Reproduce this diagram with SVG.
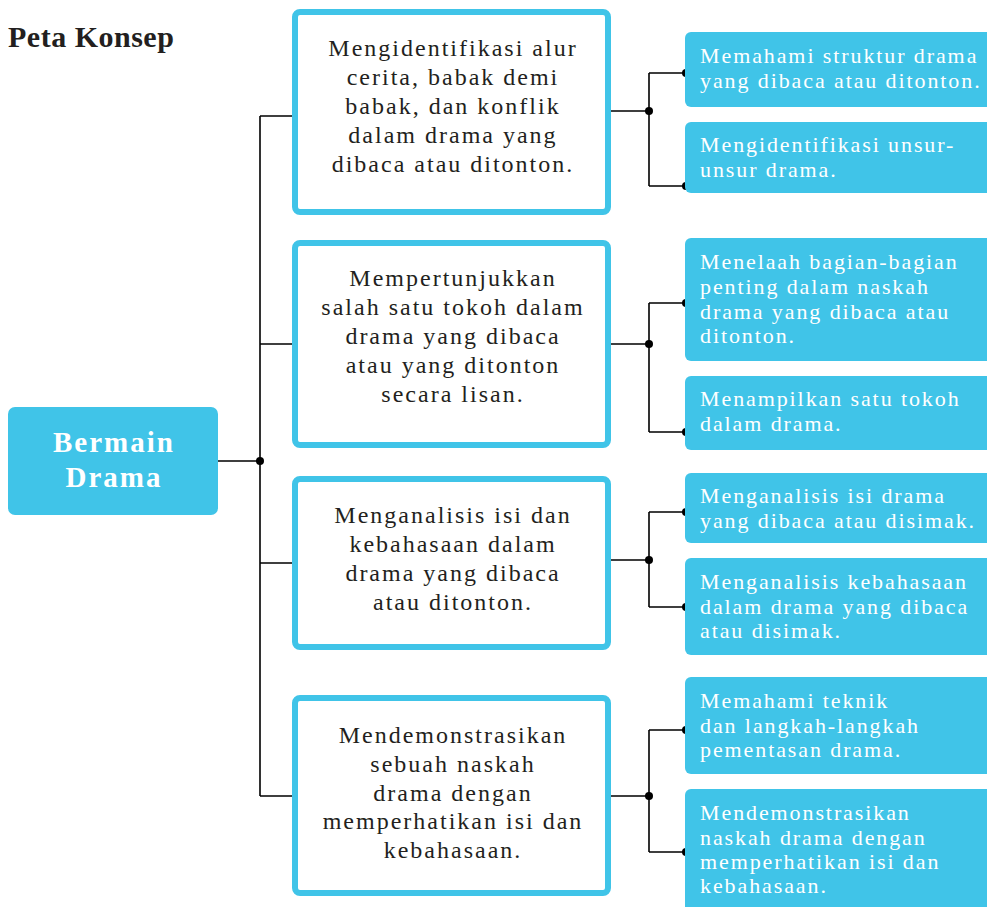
<svg xmlns="http://www.w3.org/2000/svg" width="987" height="907" viewBox="0 0 987 907">
<defs>
<style>
.title{font-family:"Liberation Serif",serif;font-weight:bold;font-size:30px;fill:#231F20;letter-spacing:0.5px}
.root{fill:#40C4E8}
.roottxt{font-family:"Liberation Serif",serif;font-weight:bold;font-size:29px;fill:#FFFFFF;letter-spacing:2px;text-anchor:middle}
.mid{fill:#FFFFFF;stroke:#40C4E8;stroke-width:6}
.midtxt{font-family:"Liberation Serif",serif;font-size:24px;fill:#231F20;letter-spacing:2px;text-anchor:middle}
.leaf{fill:#40C4E8}
.leaftxt{font-family:"Liberation Serif",serif;font-size:22px;fill:#FFFFFF;letter-spacing:1.9px}
.ln{fill:none;stroke:#000;stroke-width:1.6}
.dot{fill:#000}
</style>
</defs>
<text class="title" x="8" y="47">Peta Konsep</text>

<g id="connectors">
<path class="ln" d="M218 461H260M260 116V796M260 116H296M260 344H296M260 563H296M260 796H296"/>
<circle class="dot" cx="260" cy="461" r="4"/>
<circle class="dot" cx="296" cy="116" r="4"/>
<circle class="dot" cx="296" cy="344" r="4"/>
<circle class="dot" cx="296" cy="563" r="4"/>
<circle class="dot" cx="296" cy="796" r="4"/>
<path class="ln" d="M611 111H649M649 73V186M649 73H686M649 186H686"/>
<circle class="dot" cx="649" cy="111" r="4"/>
<circle class="dot" cx="686" cy="73" r="4"/>
<circle class="dot" cx="686" cy="186" r="4"/>
<path class="ln" d="M611 344H649M649 303V432M649 303H686M649 432H686"/>
<circle class="dot" cx="649" cy="344" r="4"/>
<circle class="dot" cx="686" cy="303" r="4"/>
<circle class="dot" cx="686" cy="432" r="4"/>
<path class="ln" d="M611 560H649M649 512V607M649 512H686M649 607H686"/>
<circle class="dot" cx="649" cy="560" r="4"/>
<circle class="dot" cx="686" cy="512" r="4"/>
<circle class="dot" cx="686" cy="607" r="4"/>
<path class="ln" d="M611 796H649M649 730V852M649 730H686M649 852H686"/>
<circle class="dot" cx="649" cy="796" r="4"/>
<circle class="dot" cx="686" cy="730" r="4"/>
<circle class="dot" cx="686" cy="852" r="4"/>
</g>

<g id="root">
<rect class="root" x="8" y="407" width="210" height="108" rx="7"/>
<text class="roottxt" x="114" y="452">Bermain</text>
<text class="roottxt" x="114" y="487">Drama</text>
</g>

<g id="mid1">
<rect class="mid" x="295" y="12" width="313" height="200" rx="5"/>
<text class="midtxt" x="453" y="56">Mengidentifikasi alur</text>
<text class="midtxt" x="453" y="85">cerita, babak demi</text>
<text class="midtxt" x="453" y="114">babak, dan konflik</text>
<text class="midtxt" x="453" y="143">dalam drama yang</text>
<text class="midtxt" x="453" y="172">dibaca atau ditonton.</text>
</g>
<g id="mid2">
<rect class="mid" x="295" y="243" width="313" height="202" rx="5"/>
<text class="midtxt" x="453" y="286">Mempertunjukkan</text>
<text class="midtxt" x="453" y="315">salah satu tokoh dalam</text>
<text class="midtxt" x="453" y="344">drama yang dibaca</text>
<text class="midtxt" x="453" y="373">atau yang ditonton</text>
<text class="midtxt" x="453" y="402">secara lisan.</text>
</g>
<g id="mid3">
<rect class="mid" x="295" y="479" width="313" height="168" rx="5"/>
<text class="midtxt" x="453" y="523">Menganalisis isi dan</text>
<text class="midtxt" x="453" y="552">kebahasaan dalam</text>
<text class="midtxt" x="453" y="581">drama yang dibaca</text>
<text class="midtxt" x="453" y="610">atau ditonton.</text>
</g>
<g id="mid4">
<rect class="mid" x="295" y="698" width="313" height="195" rx="5"/>
<text class="midtxt" x="453" y="743">Mendemonstrasikan</text>
<text class="midtxt" x="453" y="772">sebuah naskah</text>
<text class="midtxt" x="453" y="801">drama dengan</text>
<text class="midtxt" x="453" y="829">memperhatikan isi dan</text>
<text class="midtxt" x="453" y="858">kebahasaan.</text>
</g>

<g id="leaf1">
<rect class="leaf" x="685" y="32" width="320" height="75" rx="6"/>
<text class="leaftxt" x="700" y="63">Memahami struktur drama</text>
<text class="leaftxt" x="700" y="88">yang dibaca atau ditonton.</text>
</g>
<g id="leaf2">
<rect class="leaf" x="685" y="122" width="320" height="71" rx="6"/>
<text class="leaftxt" x="700" y="152">Mengidentifikasi unsur-</text>
<text class="leaftxt" x="700" y="177">unsur drama.</text>
</g>
<g id="leaf3">
<rect class="leaf" x="685" y="238" width="320" height="123" rx="6"/>
<text class="leaftxt" x="700" y="269">Menelaah bagian-bagian</text>
<text class="leaftxt" x="700" y="294">penting dalam naskah</text>
<text class="leaftxt" x="700" y="319">drama yang dibaca atau</text>
<text class="leaftxt" x="700" y="343">ditonton.</text>
</g>
<g id="leaf4">
<rect class="leaf" x="685" y="376" width="320" height="74" rx="6"/>
<text class="leaftxt" x="700" y="406">Menampilkan satu tokoh</text>
<text class="leaftxt" x="700" y="431">dalam drama.</text>
</g>
<g id="leaf5">
<rect class="leaf" x="685" y="473" width="320" height="70" rx="6"/>
<text class="leaftxt" x="700" y="503">Menganalisis isi drama</text>
<text class="leaftxt" x="700" y="528">yang dibaca atau disimak.</text>
</g>
<g id="leaf6">
<rect class="leaf" x="685" y="558" width="320" height="97" rx="6"/>
<text class="leaftxt" x="700" y="589">Menganalisis kebahasaan</text>
<text class="leaftxt" x="700" y="614">dalam drama yang dibaca</text>
<text class="leaftxt" x="700" y="638">atau disimak.</text>
</g>
<g id="leaf7">
<rect class="leaf" x="685" y="677" width="320" height="97" rx="6"/>
<text class="leaftxt" x="700" y="708">Memahami teknik</text>
<text class="leaftxt" x="700" y="733">dan langkah-langkah</text>
<text class="leaftxt" x="700" y="757">pementasan drama.</text>
</g>
<g id="leaf8">
<rect class="leaf" x="685" y="789" width="320" height="130" rx="6"/>
<text class="leaftxt" x="700" y="820">Mendemonstrasikan</text>
<text class="leaftxt" x="700" y="845">naskah drama dengan</text>
<text class="leaftxt" x="700" y="869">memperhatikan isi dan</text>
<text class="leaftxt" x="700" y="893">kebahasaan.</text>
</g>
</svg>
